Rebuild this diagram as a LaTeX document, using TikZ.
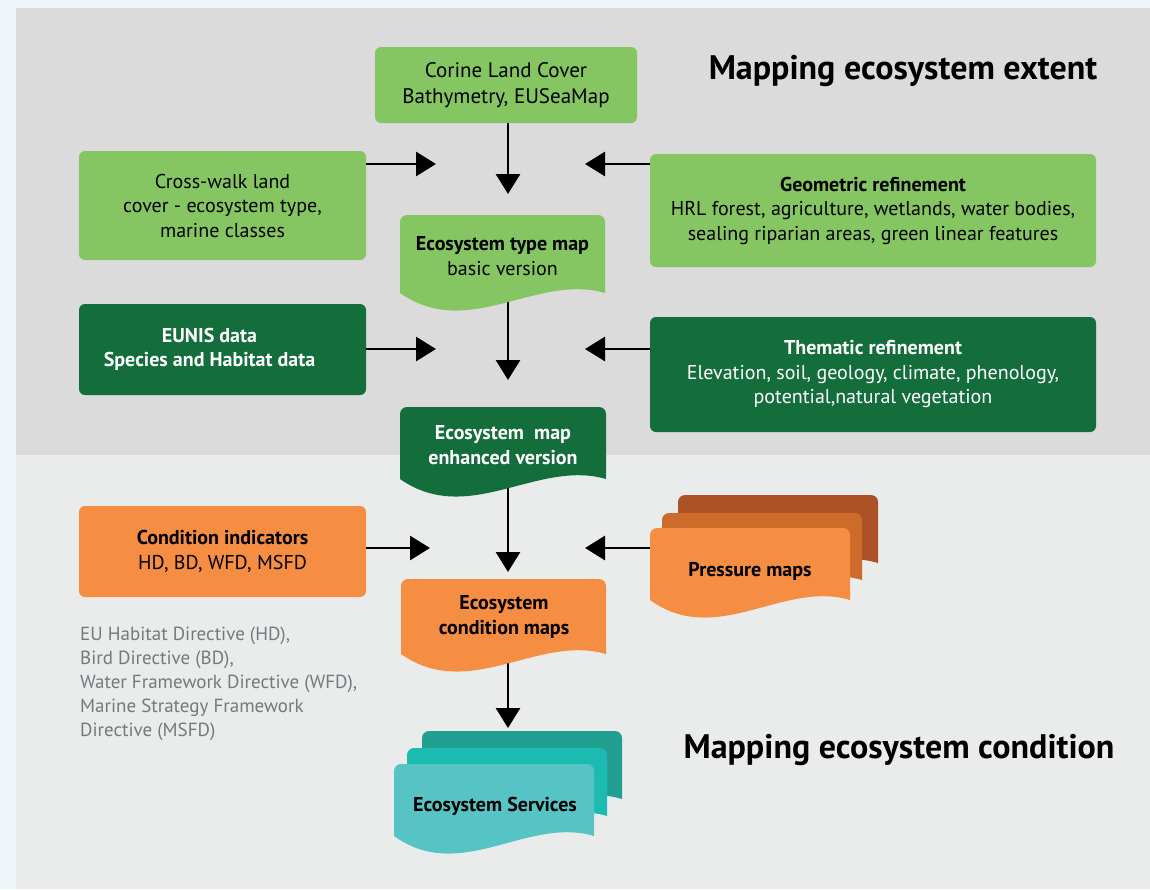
\documentclass[tikz,border=0pt]{standalone}
\usepackage{fontspec}
\setmainfont{PT Sans}
\usepackage{tikz}
\usetikzlibrary{arrows.meta, positioning, calc}

\definecolor{outerbg}{HTML}{EEF6F9}
\definecolor{paneltop}{HTML}{DBDBDB}
\definecolor{panelbot}{HTML}{EAEBEB}
\definecolor{leafgreen}{HTML}{86C662}
\definecolor{forestgreen}{HTML}{136E3B}
\definecolor{condorange}{HTML}{F58D42}
\definecolor{clayorange}{HTML}{CD6B2B}
\definecolor{rustorange}{HTML}{AD5226}
\definecolor{aquasheet}{HTML}{56C4C4}
\definecolor{tealsheet}{HTML}{1CBBB1}
\definecolor{darkteal}{HTML}{21A092}
\definecolor{notegray}{HTML}{75797E}

\pgfdeclarelayer{back}
\pgfdeclarelayer{flows}
\pgfsetlayers{back,flows,main}

\tikzset{
    box/.style={rounded corners=6pt, align=center, inner sep=0pt, font=\fontsize{20}{24.5}\selectfont},
    sheettext/.style={align=center, inner sep=0pt, font=\fontsize{20}{24.5}\selectfont},
    flow/.style={-{Triangle[length=20pt,width=24pt]}, line width=2.9pt},
    heading/.style={font=\fontsize{34}{38}\selectfont\bfseries},
}

% map sheet with a wavy lower edge: left, top, right, bottom, colour
\newcommand{\mapsheet}[5]{%
    \fill[#5] (#1,#4) [rounded corners=7pt] -- (#1,#2) -- (#3,#2) -- (#3,{#2+20}) [sharp corners] -- (#3,#4)
        .. controls ({#3-(#3-#1)/3},{#4-20}) and ({#1+(#3-#1)/3},{#4+48}) .. (#1,#4) -- cycle;
}

\begin{document}
\begin{tikzpicture}[x=1pt,y=-1pt]

        \useasboundingbox (0,0) rectangle (1150,889);

        % Panels
        \begin{pgfonlayer}{back}
            \fill[outerbg] (0,0) rectangle (1150,889);
            \fill[paneltop] (16,8) rectangle (1150,455); % extent panel
            \fill[panelbot] (16,455) rectangle (1150,889); % condition panel
        \end{pgfonlayer}

        % Headings
        \node[heading] (extent) at (903,71) {Mapping ecosystem extent};
        \node[heading] (condition) at (899,750) {Mapping ecosystem condition};

        % Input boxes
        \node[box, fill=leafgreen, minimum width=262pt, minimum height=76pt, font=\fontsize{21}{26}\selectfont] (corine) at (506,85) {Corine Land Cover\\Bathymetry, EUSeaMap};
        \node[box, fill=leafgreen, minimum width=287pt, minimum height=109pt] (crosswalk) at (222.5,205.5) {Cross-walk land\\cover - ecosystem type,\\marine classes};
        \node[box, fill=leafgreen, minimum width=446pt, minimum height=113pt] (geometric) at (873,210.5) {\textbf{Geometric refinement}\\HRL forest, agriculture, wetlands, water bodies,\\sealing riparian areas, green linear features};
        \node[box, fill=forestgreen, text=white, minimum width=287pt, minimum height=91pt] (eunis) at (222.5,349.5) {\textbf{EUNIS data}\hspace*{26pt}\\\textbf{Species and Habitat data}\hspace*{26pt}};
        \node[box, fill=forestgreen, text=white, minimum width=446pt, minimum height=115pt] (thematic) at (873,374.5) {\textbf{Thematic refinement}\\Elevation, soil, geology, climate, phenology,\\potential,natural vegetation};
        \node[box, fill=condorange, minimum width=287pt, minimum height=91pt] (indicators) at (222.5,551.5) {\textbf{Condition indicators}\\HD, BD, WFD, MSFD};

        % Map sheets
        \mapsheet{400}{215}{605}{293}{leafgreen}
        \mapsheet{400}{407}{606}{479}{forestgreen}
        \mapsheet{401}{579}{606}{654}{condorange}
        \mapsheet{678}{495}{878}{563}{rustorange}
        \mapsheet{662}{513}{862}{580}{clayorange}
        \mapsheet{650}{528}{850}{600}{condorange}
        \mapsheet{422}{731}{622}{799}{darkteal}
        \mapsheet{407}{748}{607}{816}{tealsheet}
        \mapsheet{394}{764}{594}{836}{aquasheet}

        \node[sheettext] (typemap) at (502.5,256) {\textbf{Ecosystem type map}\\basic version};
        \node[sheettext, text=white] (enhanced) at (503,445) {\textbf{Ecosystem\ \ map}\\\textbf{enhanced version}};
        \node[sheettext] (condmaps) at (504,617) {\textbf{Ecosystem}\\\textbf{condition maps}};
        \node[sheettext] (pressure) at (750,571) {\textbf{Pressure maps}};
        \node[sheettext] (services) at (495,806) {\textbf{Ecosystem Services}};

        % Directives note
        \node[anchor=north west, align=left, inner sep=0pt, text=notegray, font=\fontsize{19}{24}\selectfont] (directives) at (80,627)
            {EU Habitat Directive (HD),\\Bird Directive (BD),\\Water Framework Directive (WFD),\\Marine Strategy Framework\\Directive (MSFD)};

        % Arrow tips
        \coordinate (inCorine) at (508,194);
        \coordinate (inCross) at (436,164);
        \coordinate (inGeo) at (585,164);
        \coordinate (inType) at (508,380);
        \coordinate (inEunis) at (436,349);
        \coordinate (inThem) at (585,349);
        \coordinate (inEnh) at (508,572);
        \coordinate (inInd) at (430,548);
        \coordinate (inPress) at (585,548);
        \coordinate (inCond) at (508,728);

        % Arrows
        \begin{pgfonlayer}{flows}
            \draw[flow] (corine.south -| inCorine) -- (inCorine);
            \draw[flow] (crosswalk.east |- inCross) -- (inCross);
            \draw[flow] (geometric.west |- inGeo) -- (inGeo);
            \draw[flow] (typemap -| inType) -- (inType);
            \draw[flow] (eunis.east |- inEunis) -- (inEunis);
            \draw[flow] (thematic.west |- inThem) -- (inThem);
            \draw[flow] (enhanced -| inEnh) -- (inEnh);
            \draw[flow] (indicators.east |- inInd) -- (inInd);
            \draw[flow] (pressure |- inPress) -- (inPress);
            \draw[flow] (condmaps -| inCond) -- (inCond);
        \end{pgfonlayer}

\end{tikzpicture}
\end{document}
